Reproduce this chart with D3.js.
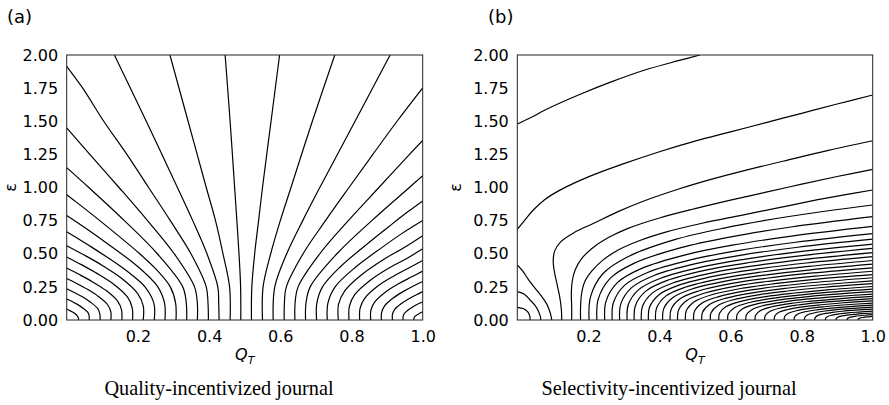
<!DOCTYPE html>
<html>
<head>
<meta charset="utf-8">
<script src="https://cdn.jsdelivr.net/npm/d3@7"></script>
<style>
  body { margin: 0; background: #fff; }
  .tick text, .lab { font-family: "DejaVu Sans", sans-serif; font-size: 16px; fill: #000; }
  .cap { font-family: "Liberation Serif", "Times New Roman", serif; font-size: 20.3px; fill: #000; }
  .contour { fill: none; stroke: #000; stroke-width: 1.2; }
</style>
</head>
<body>
<svg id="chart" width="889" height="405"></svg>
<script>
// axis values
const yTicks = [0, 0.25, 0.5, 0.75, 1, 1.25, 1.5, 1.75, 2];
const xTicks = [0.2, 0.4, 0.6, 0.8, 1.0];
const panelLabels = ["(a)", "(b)"];
const captions = ["Quality-incentivized journal", "Selectivity-incentivized journal"];

// contour lines: [Q_T, epsilon] points
const linesA = [
  [[0.033,0],[0.033,0.016],[0.030,0.030],[0.024,0.047],[0.015,0.062],[0.007,0.073],[0,0.083]],
  [[0.063,0],[0.063,0.032],[0.059,0.059],[0.045,0.091],[0.030,0.118],[0.014,0.141],[0,0.159]],
  [[0.094,0],[0.093,0.047],[0.087,0.087],[0.067,0.134],[0.044,0.175],[0.021,0.208],[0,0.236]],
  [[0.124,0],[0.124,0.062],[0.115,0.115],[0.089,0.178],[0.058,0.232],[0.028,0.276],[0,0.313]],
  [[0.155,0],[0.154,0.077],[0.143,0.143],[0.111,0.222],[0.072,0.289],[0.034,0.345],[0,0.392]],
  [[0.185,0],[0.184,0.092],[0.171,0.172],[0.133,0.268],[0.086,0.35],[0.041,0.418],[0,0.476]],
  [[0.215,0],[0.215,0.107],[0.199,0.201],[0.154,0.315],[0.100,0.412],[0.048,0.492],[0,0.561]],
  [[0.246,0],[0.245,0.125],[0.220,0.25],[0.190,0.325],[0.154,0.4],[0.070,0.55],[0,0.666]],
  [[0.276,0],[0.275,0.125],[0.256,0.25],[0.201,0.4],[0.102,0.6],[0.038,0.72],[0,0.788]],
  [[0.307,0],[0.306,0.125],[0.291,0.25],[0.254,0.375],[0.205,0.5],[0.093,0.75],[0.022,0.9],[0,0.945]],
  [[0.337,0],[0.336,0.125],[0.326,0.25],[0.2545,0.5],[0.162,0.75],[0.062,1.0],[0,1.15]],
  [[0.367,0],[0.367,0.125],[0.359,0.25],[0.302,0.5],[0.227,0.75],[0.147,1.0],[0.065,1.25],[0,1.45]],
  [[0.398,0],[0.397,0.125],[0.392,0.25],[0.349,0.5],[0.291,0.75],[0.23,1.0],[0.169,1.25],[0.104,1.5],[0.045,1.75],[0,1.915]],
  [[0.428,0],[0.427,0.125],[0.4245,0.25],[0.394,0.5],[0.354,0.75],[0.311,1.0],[0.2235,1.5],[0.134,2.0]],
  [[0.459,0],[0.4575,0.25],[0.439,0.5],[0.418,0.75],[0.392,1.0],[0.341,1.5],[0.29,2.0]],
  [[0.489,0],[0.4885,0.25],[0.484,0.5],[0.478,0.75],[0.4717,1.0],[0.459,1.5],[0.445,2.0]],
  [[0.519,0],[0.52,0.25],[0.528,0.5],[0.539,0.75],[0.55,1.0],[0.574,1.5],[0.598,2.0]],
  [[0.550,0],[0.5516,0.25],[0.573,0.5],[0.600,0.75],[0.630,1.0],[0.69,1.5],[0.753,2.0]],
  [[0.580,0],[0.5845,0.25],[0.618,0.5],[0.663,0.75],[0.711,1.0],[0.81,1.5],[0.9085,2.0]],
  [[0.611,0],[0.6115,0.125],[0.617,0.25],[0.664,0.5],[0.727,0.75],[0.793,1.0],[0.86,1.25],[0.928,1.5],[1,1.752]],
  [[0.641,0],[0.6415,0.125],[0.650,0.25],[0.711,0.5],[0.791,0.75],[0.877,1.0],[0.963,1.25],[1,1.355]],
  [[0.671,0],[0.672,0.125],[0.684,0.25],[0.759,0.5],[0.857,0.75],[0.9625,1.0],[1,1.089]],
  [[0.702,0],[0.7025,0.125],[0.7185,0.25],[0.768,0.4],[0.856,0.6],[0.912,0.72],[0.96,0.82],[1,0.899]],
  [[0.732,0],[0.7335,0.125],[0.754,0.25],[0.812,0.4],[0.887,0.55],[0.94,0.65],[1,0.751]],
  [[0.763,0],[0.7635,0.118],[0.781,0.22],[0.83,0.345],[0.889,0.455],[0.947,0.545],[1,0.636]],
  [[0.793,0],[0.794,0.103],[0.809,0.191],[0.852,0.298],[0.904,0.39],[0.954,0.462],[1,0.537]],
  [[0.823,0],[0.824,0.088],[0.837,0.163],[0.873,0.254],[0.918,0.331],[0.961,0.393],[1,0.449]],
  [[0.854,0],[0.8544,0.073],[0.865,0.135],[0.895,0.21],[0.932,0.273],[0.968,0.324],[1,0.369]],
  [[0.884,0],[0.8847,0.058],[0.893,0.107],[0.917,0.166],[0.946,0.216],[0.974,0.257],[1,0.29]],
  [[0.915,0],[0.915,0.0425],[0.921,0.079],[0.939,0.122],[0.960,0.159],[0.981,0.189],[1,0.214]],
  [[0.945,0],[0.945,0.027],[0.949,0.051],[0.961,0.079],[0.974,0.1025],[0.988,0.122],[1,0.138]],
  [[0.975,0],[0.9755,0.012],[0.977,0.023],[0.982,0.035],[0.9885,0.046],[0.9945,0.0545],[1,0.062]]
];

// contour lines: closed arcs near the origin, the two upper lines, then bottom-to-right-edge lines
const linesB = [
  [[0,0.096],[0.018,0.085],[0.030,0.060],[0.035,0.030],[0.036,0]],
  [[0,0.214],[0.020,0.195],[0.036,0.151],[0.050,0.110],[0.060,0.063],[0.065,0.025],[0.066,0]],
  [[0,0.415],[0.015,0.370],[0.030,0.310],[0.050,0.240],[0.069,0.176],[0.083,0.120],[0.090,0.075],[0.095,0.030],[0.097,0]],
  [[0,1.479],[0.04,1.53],[0.078,1.585],[0.172,1.698],[0.266,1.799],[0.359,1.887],[0.453,1.957],[0.514,2.0]],
  [[0,0.684],[0.02,0.75],[0.045,0.83],[0.076,0.906],[0.12,0.98],[0.2,1.08],[0.3,1.18],[0.4,1.27],[0.5,1.35],[0.6,1.42],[0.7,1.49],[0.8,1.56],[0.9,1.63],[1.0,1.698]],
  [[0.125,0],[0.124,0.08],[0.119,0.18],[0.111,0.28],[0.104,0.37],[0.101,0.44],[0.105,0.52],[0.122,0.59],[0.16,0.66],[0.215,0.73],[0.285,0.82],[0.358,0.9],[0.45,0.985],[0.55,1.065],[0.65,1.135],[0.75,1.2],[0.875,1.28],[1.0,1.353]],
  [[0.153,0],[0.153,0.1],[0.152,0.2],[0.155,0.3],[0.163,0.38],[0.18,0.46],[0.21,0.54],[0.255,0.62],[0.31,0.69],[0.4,0.77],[0.5,0.84],[0.603,0.906],[0.7,0.965],[0.8,1.025],[0.9,1.083],[1,1.137]],
  [[0.178,0],[0.178,0.1],[0.181,0.2],[0.19,0.29],[0.21,0.37],[0.24,0.45],[0.285,0.53],[0.345,0.6],[0.42,0.665],[0.52,0.73],[0.63,0.79],[0.74,0.85],[0.842,0.906],[0.92,0.945],[1,0.981]],
  [[0.202,0],[0.206,0.174],[0.240,0.347],[0.311,0.477],[0.445,0.608],[0.582,0.694],[0.764,0.781],[1,0.868]],
  [[0.224,0],[0.2276,0.156],[0.2606,0.312],[0.3295,0.429],[0.4607,0.546],[0.5934,0.624],[0.7703,0.702],[1,0.780]],
  [[0.246,0],[0.2495,0.141],[0.2816,0.282],[0.3485,0.388],[0.476,0.494],[0.6049,0.565],[0.7768,0.635],[1,0.706]],
  [[0.267,0],[0.2704,0.130],[0.3016,0.261],[0.3667,0.359],[0.4906,0.456],[0.6159,0.522],[0.783,0.587],[1,0.652]],
  [[0.288,0],[0.2913,0.122],[0.3216,0.244],[0.3848,0.336],[0.5052,0.427],[0.6269,0.488],[0.7892,0.549],[1,0.610]],
  [[0.309,0],[0.3122,0.115],[0.3416,0.229],[0.403,0.315],[0.5198,0.401],[0.6379,0.458],[0.7955,0.516],[1,0.573]],
  [[0.329,0],[0.3322,0.108],[0.3607,0.216],[0.4203,0.297],[0.5337,0.378],[0.6484,0.432],[0.8014,0.486],[1,0.540]],
  [[0.349,0],[0.3521,0.102],[0.3797,0.203],[0.4375,0.279],[0.5476,0.356],[0.6589,0.406],[0.8073,0.457],[1,0.508]],
  [[0.369,0],[0.372,0.096],[0.3988,0.191],[0.4548,0.263],[0.5615,0.335],[0.6694,0.382],[0.8132,0.430],[1,0.478]],
  [[0.389,0],[0.3919,0.090],[0.4178,0.180],[0.4721,0.247],[0.5754,0.314],[0.6798,0.359],[0.8191,0.404],[1,0.449]],
  [[0.409,0],[0.4118,0.084],[0.4369,0.168],[0.4894,0.232],[0.5893,0.295],[0.6903,0.337],[0.8251,0.379],[1,0.421]],
  [[0.430,0],[0.4327,0.079],[0.4569,0.158],[0.5075,0.217],[0.6039,0.276],[0.7013,0.315],[0.8313,0.355],[1,0.394]],
  [[0.451,0],[0.4536,0.074],[0.4769,0.147],[0.5257,0.202],[0.6184,0.258],[0.7123,0.294],[0.8375,0.331],[1,0.368]],
  [[0.473,0],[0.4755,0.069],[0.4979,0.137],[0.5447,0.189],[0.6337,0.240],[0.7239,0.274],[0.844,0.309],[1,0.343]],
  [[0.496,0],[0.4984,0.064],[0.5198,0.128],[0.5645,0.175],[0.6497,0.223],[0.7359,0.255],[0.8508,0.287],[1,0.319]],
  [[0.519,0],[0.5213,0.059],[0.5417,0.118],[0.5844,0.163],[0.6657,0.207],[0.748,0.237],[0.8576,0.266],[1,0.296]],
  [[0.543,0],[0.5451,0.055],[0.5646,0.110],[0.6052,0.151],[0.6824,0.192],[0.7605,0.219],[0.8647,0.247],[1,0.274]],
  [[0.567,0],[0.569,0.051],[0.5874,0.101],[0.6259,0.139],[0.6991,0.177],[0.7731,0.202],[0.8718,0.228],[1,0.253]],
  [[0.592,0],[0.5939,0.047],[0.6113,0.093],[0.6475,0.128],[0.7164,0.163],[0.7862,0.186],[0.8792,0.210],[1,0.233]],
  [[0.617,0],[0.6188,0.043],[0.6351,0.086],[0.6691,0.118],[0.7338,0.150],[0.7993,0.171],[0.8866,0.193],[1,0.214]],
  [[0.643,0],[0.6447,0.039],[0.6599,0.078],[0.6916,0.108],[0.7519,0.137],[0.8129,0.157],[0.8943,0.176],[1,0.196]],
  [[0.669,0],[0.6706,0.036],[0.6846,0.071],[0.714,0.098],[0.77,0.125],[0.8266,0.142],[0.902,0.160],[1,0.178]],
  [[0.696,0],[0.6974,0.032],[0.7103,0.064],[0.7373,0.089],[0.7887,0.113],[0.8407,0.129],[0.91,0.145],[1,0.161]],
  [[0.723,0],[0.7243,0.029],[0.7361,0.058],[0.7607,0.079],[0.8075,0.101],[0.8549,0.115],[0.918,0.130],[1,0.144]],
  [[0.751,0],[0.7522,0.026],[0.7628,0.051],[0.7849,0.070],[0.8269,0.090],[0.8695,0.102],[0.9263,0.115],[1,0.128]],
  [[0.779,0],[0.78,0.022],[0.7894,0.045],[0.8091,0.062],[0.8464,0.078],[0.8842,0.090],[0.9346,0.101],[1,0.112]],
  [[0.808,0],[0.8089,0.019],[0.8171,0.039],[0.8341,0.053],[0.8666,0.068],[0.8994,0.078],[0.9432,0.087],[1,0.097]],
  [[0.837,0],[0.8378,0.016],[0.8447,0.033],[0.8592,0.045],[0.8867,0.057],[0.9146,0.066],[0.9518,0.074],[1,0.082]],
  [[0.867,0],[0.8676,0.013],[0.8733,0.027],[0.8851,0.037],[0.9076,0.047],[0.9303,0.054],[0.9606,0.060],[1,0.067]],
  [[0.897,0],[0.8975,0.011],[0.9019,0.021],[0.911,0.029],[0.9284,0.037],[0.946,0.042],[0.9695,0.048],[1,0.053]],
  [[0.928,0],[0.9283,0.008],[0.9314,0.016],[0.9378,0.022],[0.95,0.028],[0.9623,0.032],[0.9787,0.036],[1,0.040]],
  [[0.959,0],[0.9592,0.005],[0.9609,0.011],[0.9646,0.015],[0.9715,0.019],[0.9785,0.022],[0.9879,0.024],[1,0.027]]
];

const svg = d3.select("#chart");
const plotTop = 55, plotBottom = 320;
const panels = [
  { left: 66.7, right: 422.7, lines: linesA, labelX: 7, epsX: 15.5, capX: 219 },
  { left: 517.3, right: 872.7, lines: linesB, labelX: 488, epsX: 460.5, capX: 669 }
];

panels.forEach((p, i) => {
  const x = d3.scaleLinear().domain([0, 1]).range([p.left, p.right]);
  const y = d3.scaleLinear().domain([0, 2]).range([plotBottom, plotTop]);
  const g = svg.append("g");

  g.append("clipPath").attr("id", "clip" + i)
    .append("rect").attr("x", p.left).attr("y", plotTop)
    .attr("width", p.right - p.left).attr("height", plotBottom - plotTop);

  const line = d3.line()
    .x(d => x(d[0]))
    .y(d => y(d[1]))
    .curve(d3.curveCatmullRom.alpha(0.5));

  g.append("g").attr("clip-path", `url(#clip${i})`)
    .selectAll("path").data(p.lines).join("path")
    .attr("class", "contour")
    .attr("d", line);

  g.append("rect")
    .attr("x", p.left).attr("y", plotTop)
    .attr("width", p.right - p.left).attr("height", plotBottom - plotTop)
    .attr("fill", "none").attr("stroke", "#222").attr("stroke-width", 1);

  g.append("g").attr("transform", `translate(0,${plotBottom})`)
    .call(d3.axisBottom(x).tickValues(xTicks).tickSize(0).tickPadding(10.5).tickFormat(d3.format(".1f")))
    .call(a => a.select(".domain").remove());

  g.append("g").attr("transform", `translate(${p.left},0)`)
    .call(d3.axisLeft(y).tickValues(yTicks).tickSize(0).tickPadding(8.5).tickFormat(d3.format(".2f")))
    .call(a => a.select(".domain").remove());

  g.append("text").attr("class", "lab")
    .attr("x", p.labelX).attr("y", 23).style("font-size", "18px")
    .text(panelLabels[i]);

  g.append("text").attr("class", "lab")
    .attr("transform", `translate(${p.epsX},${(plotTop + plotBottom) / 2}) rotate(-90)`)
    .attr("text-anchor", "middle")
    .text("ε");

  const qt = g.append("text").attr("class", "lab")
    .attr("x", (p.left + p.right) / 2).attr("y", 360)
    .attr("text-anchor", "middle")
    .style("font-style", "italic");
  qt.append("tspan").text("Q");
  qt.append("tspan").attr("dy", 4).style("font-size", "11px").text("T");

  g.append("text").attr("class", "cap")
    .attr("x", p.capX).attr("y", 395)
    .attr("text-anchor", "middle")
    .text(captions[i]);
});
</script>
</body>
</html>
